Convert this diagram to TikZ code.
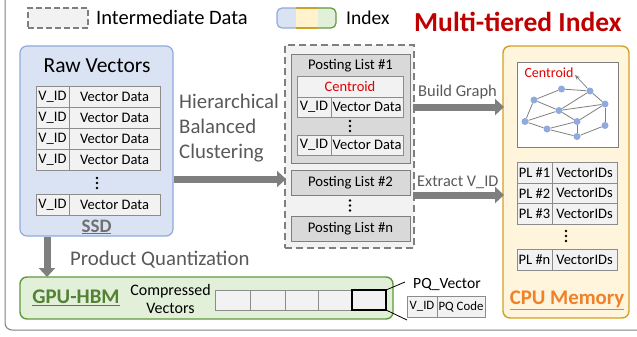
\documentclass[tikz,border=0pt]{standalone}
\usepackage{fontspec}
\setmainfont{Carlito}
\usetikzlibrary{arrows.meta}
\definecolor{ssdfill}{HTML}{DAE3F3}
\definecolor{ssdline}{HTML}{8FAADC}
\definecolor{gpufill}{HTML}{E2F0D9}
\definecolor{gpuline}{HTML}{5E9A3A}
\definecolor{gputext}{HTML}{548235}
\definecolor{cpufill}{HTML}{FFF5DC}
\definecolor{cpuline}{HTML}{D4A020}
\definecolor{cputext}{HTML}{F0802A}
\definecolor{cellfill}{HTML}{F2F2F2}
\definecolor{plfill}{HTML}{D9D9D9}
\definecolor{arrowgray}{HTML}{7F7F7F}
\definecolor{linegray}{HTML}{8C8C8C}
\definecolor{labelgray}{HTML}{595959}
\definecolor{ssdgray}{HTML}{707070}
\definecolor{redtxt}{HTML}{E00000}
\definecolor{titlered}{HTML}{C00000}
\definecolor{nodeblue}{HTML}{8FAADC}
\definecolor{legyellow}{HTML}{FFF2CC}
\definecolor{leggold}{HTML}{C9A227}
\newcommand\bx[7]{\node[#2, inner sep=0pt, outer sep=0pt, minimum width={(#5)-(#3)}, minimum height={(#6)-(#4)}] (#1) at ({((#3)+(#5))/2},{((#4)+(#6))/2}) {#7};}
\newcommand\vdotsat[3]{\foreach \k in {-1,0,1} {\fill (#2,{#3+\k*5}) circle (1.3pt);}\coordinate (#1) at (#2,#3);}
\tikzset{
  cell/.style={draw=linegray, line width=0.8pt, fill=cellfill, font=\fontsize{14.5}{16}\selectfont},
  smallcell/.style={draw=linegray, line width=0.8pt, fill=cellfill, font=\fontsize{12.8}{14}\selectfont},
  bigarrow/.style={draw=arrowgray, line width=7pt, -{Triangle[length=9pt,width=16pt]}},
  glabel/.style={text=labelgray, inner sep=0pt},
  gnode/.style={circle, fill=nodeblue, inner sep=0pt, minimum size=7pt},
  gedge/.style={draw=arrowgray, line width=0.8pt},
}
\begin{document}
\begin{tikzpicture}[x=1pt,y=-1pt]
\useasboundingbox (0,0) rectangle (637,337);
% outer frame
\draw[draw=arrowgray, line width=1pt, rounded corners=7pt] (5,-10) rectangle (645,330);

% legend
\bx{legdash}{draw=arrowgray, fill=cellfill, line width=1.2pt, dash pattern=on 6pt off 3pt}{28}{8}{88}{28}{}
\node[anchor=west, inner sep=0pt, font=\fontsize{20.5}{22}\selectfont] (legtxt1) at (96,17.5) {Intermediate Data};
\begin{scope}
\clip[rounded corners=5pt] (277,8) rectangle (336,28);
\fill[ssdfill] (277,8) rectangle (296,28);
\fill[legyellow] (296,8) rectangle (318,28);
\fill[gpufill] (318,8) rectangle (336,28);
\end{scope}
\draw[ssdline, line width=1.2pt, rounded corners=5pt] (296,8) -- (277,8) -- (277,28) -- (296,28);
\draw[leggold, line width=1.2pt] (296,8) -- (318,8) (296,28) -- (318,28);
\draw[gpuline, line width=1.2pt, rounded corners=5pt] (318,8) -- (336,8) -- (336,28) -- (318,28);
\node[anchor=west, inner sep=0pt, font=\fontsize{19.5}{22}\selectfont] (legtxt2) at (346,17.5) {Index};
\node[anchor=west, inner sep=0pt, text=titlered, font=\fontsize{27.5}{30}\bfseries] (title) at (414,22) {Multi-tiered Index};

% SSD box
\bx{ssd}{draw=ssdline, fill=ssdfill, line width=1.2pt, rounded corners=7pt}{20}{46}{173}{236}{}
\node[inner sep=0pt, font=\fontsize{21.5}{24}\selectfont] (rawv) at (97,66) {Raw Vectors};
\foreach \i/\ya/\yb in {1/86/107, 2/107/128, 3/128/149, 4/149/170, 5/194/215} {
  \bx{sid\i}{cell}{36}{\ya}{69}{\yb}{V\_ID}
  \bx{sdat\i}{cell}{69}{\ya}{160}{\yb}{Vector Data}
}
\vdotsat{sdots}{97}{183}
\node[inner sep=0pt, text=ssdgray, font=\fontsize{19}{21}\bfseries] (ssdlbl) at (96.5,227) {\underline{SSD}};

% hierarchical clustering arrow
\node[glabel, anchor=west, align=left, font=\fontsize{20.8}{25}\selectfont] (hier) at (179,128) {Hierarchical\\Balanced\\Clustering};

% intermediate posting lists
\bx{inter}{draw=arrowgray, fill=cellfill, line width=1.5pt, dash pattern=on 7pt off 4pt}{285}{45}{414}{248}{}
\bx{pl1}{draw=arrowgray, fill=plfill, line width=0.9pt}{291}{54}{410}{163}{}
\node[inner sep=0pt, font=\fontsize{14.7}{16}\selectfont] (pl1t) at (350.5,65.5) {Posting List \#1};
\bx{cent}{cell, text=redtxt}{297}{76}{403}{97}{Centroid}
\bx{p1id1}{cell}{297}{97}{331}{117}{V\_ID}
\bx{p1d1}{cell}{331}{97}{403}{117}{Vector Data}
\vdotsat{p1dots}{350}{126}
\bx{p1id2}{cell}{297}{135}{331}{155}{V\_ID}
\bx{p1d2}{cell}{331}{135}{403}{155}{Vector Data}
\bx{pl2}{draw=arrowgray, fill=plfill, line width=0.9pt, font=\fontsize{14.7}{16}\selectfont}{291}{170}{410}{195}{Posting List \#2}
\vdotsat{pldots}{350}{205.5}
\bx{pln}{draw=arrowgray, fill=plfill, line width=0.9pt, font=\fontsize{14.7}{16}\selectfont}{291}{216}{410}{241}{Posting List \#n}

\coordinate (ha) at (174,179);
\coordinate (hb) at (286,179);
\draw[bigarrow] (ha) -- (hb);

% CPU memory
\bx{cpu}{draw=cpuline, fill=cpufill, line width=1.4pt, rounded corners=7pt}{503}{46}{629}{318}{}
\bx{graph}{draw=arrowgray, fill=white, line width=0.8pt}{517}{62}{618}{147}{}
\foreach \n/\x/\y in {1/561.5/89, 2/590/91, 3/534/100, 4/605/104, 5/559/110.5, 6/525/121.5, 7/577/121.5, 8/547/129, 9/605/125.5, 10/577/136.5} {
  \node[gnode] (g\n) at (\x,\y) {};
}
\foreach \a/\b in {3/1, 1/2, 2/4, 3/5, 5/4, 5/2, 3/6, 6/5, 6/8, 8/7, 5/7, 7/4, 7/10, 8/10, 10/9, 9/4} {
  \draw[gedge] (g\a) -- (g\b);
}
\node[inner sep=0pt, text=redtxt, font=\fontsize{14}{16}\selectfont] (centlbl) at (549,72.5) {Centroid};
\coordinate (ctip) at (575,75);
\draw[gedge, line width=0.7pt, -{Stealth[length=5pt,width=4pt]}] (g2) -- (ctip);

\foreach \i/\ya/\yb/\t in {1/162/183/1, 2/183/203.5/2, 3/203.5/224/3, 4/249/270/n} {
  \bx{cpl\i}{cell}{517}{\ya}{552}{\yb}{PL \#\t}
  \bx{cvid\i}{cell}{552}{\ya}{617}{\yb}{VectorIDs}
}
\vdotsat{cdots}{566}{236}
\node[inner sep=0pt, text=cputext, font=\fontsize{20.8}{23}\bfseries] (cpulbl) at (567,300) {\underline{CPU Memory}};

\coordinate (bga) at (413,107);
\coordinate (bgb) at (504,107);
\draw[bigarrow] (bga) -- (bgb);
\node[glabel, anchor=west, font=\fontsize{16.5}{18}\selectfont] (bglbl) at (418,92) {Build Graph};
\coordinate (exa) at (413,195);
\coordinate (exb) at (504,195);
\draw[bigarrow] (exa) -- (exb);
\node[glabel, anchor=west, font=\fontsize{16.3}{18}\selectfont] (exlbl) at (417,182) {Extract V\_ID};

% GPU HBM
\bx{gpu}{draw=gpuline, fill=gpufill, line width=1.4pt, rounded corners=7pt}{20}{277}{393}{319}{}
\coordinate (pqa) at (47,237);
\coordinate (pqb) at (47,277);
\draw[bigarrow] (pqa) -- (pqb);
\node[glabel, anchor=west, font=\fontsize{20.8}{23}\selectfont] (pqlbl) at (70,260) {Product Quantization};
\node[inner sep=0pt, text=gputext, font=\fontsize{20.8}{23}\bfseries] (gpulbl) at (76,298) {\underline{GPU-HBM}};
\node[inner sep=0pt, align=center, font=\fontsize{16}{18.5}\selectfont] (cvlbl) at (170.5,299) {Compressed\\Vectors};
\foreach \i/\xa/\xb in {1/215/250, 2/250/285, 3/285/318, 4/318/352} {
  \bx{gc\i}{cell}{\xa}{290}{\xb}{310}{}
}
\bx{gc5}{draw=black, fill=cellfill, line width=1.2pt}{352}{290}{386}{310}{}
\coordinate (za) at (405,282);
\coordinate (zb) at (407,320);
\draw[black, line width=0.8pt] (gc5.north east) -- (za);
\draw[black, line width=0.8pt] (gc5.south east) -- (zb);
\node[anchor=west, inner sep=0pt, font=\fontsize{15.6}{17}\selectfont] (pqv) at (413,284) {PQ\_Vector};
\bx{pqid}{smallcell}{407}{296}{437}{317}{V\_ID}
\bx{pqcode}{smallcell}{437}{296}{485}{317}{PQ Code}
\end{tikzpicture}
\end{document}
